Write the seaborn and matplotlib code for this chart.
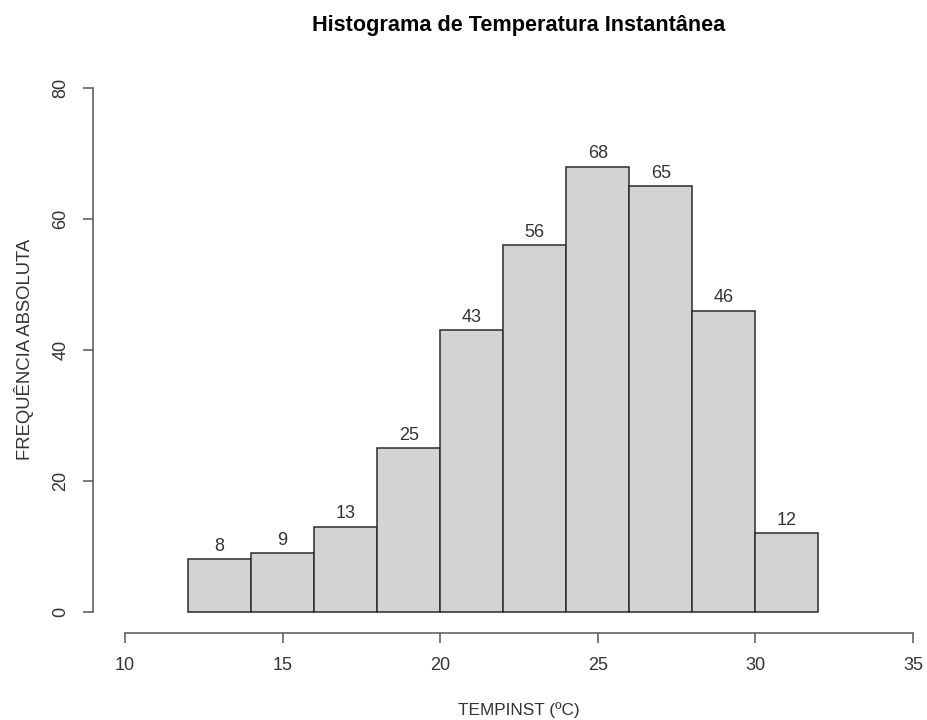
import matplotlib
matplotlib.use("Agg")
import matplotlib.pyplot as plt
import seaborn as sns
import numpy as np

# Class limits (°C) and absolute frequencies per class
bin_edges = [12, 14, 16, 18, 20, 22, 24, 26, 28, 30, 32]
frequencies = [8, 9, 13, 25, 43, 56, 68, 65, 46, 12]
x_ticks = [10, 15, 20, 25, 30, 35]
y_ticks = [0, 20, 40, 60, 80]

title = "Histograma de Temperatura Instantânea"
x_label = "TEMPINST (ºC)"
y_label = "FREQUÊNCIA ABSOLUTA"

sns.set_style("white")
plt.rcParams["font.family"] = ["Liberation Sans", "DejaVu Sans"]

fig = plt.figure(figsize=(9.28, 7.2), dpi=100)
W, H = 928, 720
left, right, top, bottom = 93.5, 944.5, 67, 632.7
ax = fig.add_axes([left / W, (H - bottom) / H, (right - left) / W, (bottom - top) / H])

mids = [(a + b) / 2 for a, b in zip(bin_edges[:-1], bin_edges[1:])]
sns.histplot(x=mids, weights=frequencies, bins=bin_edges, ax=ax,
             color="#d3d3d3", alpha=1.0, edgecolor="#2b2b2b", linewidth=1.1)

for container in ax.containers:
    ax.bar_label(container, labels=[str(v) for v in frequencies],
                 padding=3, fontsize=13, color="#333333")

ax.set_xlim(9, 36)
ax.set_ylim(-3.2, 83.2)
ax.set_xticks(x_ticks)
ax.set_yticks(y_ticks)
ax.set_xticklabels([str(t) for t in x_ticks])
ax.set_yticklabels([str(t) for t in y_ticks], rotation=90, va="center")

for side in ["top", "right"]:
    ax.spines[side].set_visible(False)
for side in ["left", "bottom"]:
    ax.spines[side].set_color("#555555")
    ax.spines[side].set_linewidth(1.1)
ax.spines["left"].set_bounds(0, 80)
ax.spines["bottom"].set_bounds(10, 35)

ax.tick_params(axis="both", which="major", direction="out", length=7.5,
               width=1.1, color="#555555", labelsize=13, labelcolor="#333333",
               bottom=True, left=True, top=False, right=False)
ax.tick_params(axis="x", pad=10)
ax.tick_params(axis="y", pad=10)
ax.grid(False)

ax.set_xlabel("")
ax.set_ylabel("")
cx = (left + right) / 2 / W
fig.text(cx, 1 - 25 / H, title, ha="center", va="center",
         fontsize=15.6, fontweight="bold", color="#000000")
fig.text(cx, 1 - 710 / H, x_label, ha="center", va="center",
         fontsize=12.4, color="#333333")
fig.text(24 / W, 1 - 349 / H, y_label, ha="center", va="center",
         rotation=90, fontsize=13.3, color="#333333")

fig.savefig("out.png", dpi=100, facecolor="white")
